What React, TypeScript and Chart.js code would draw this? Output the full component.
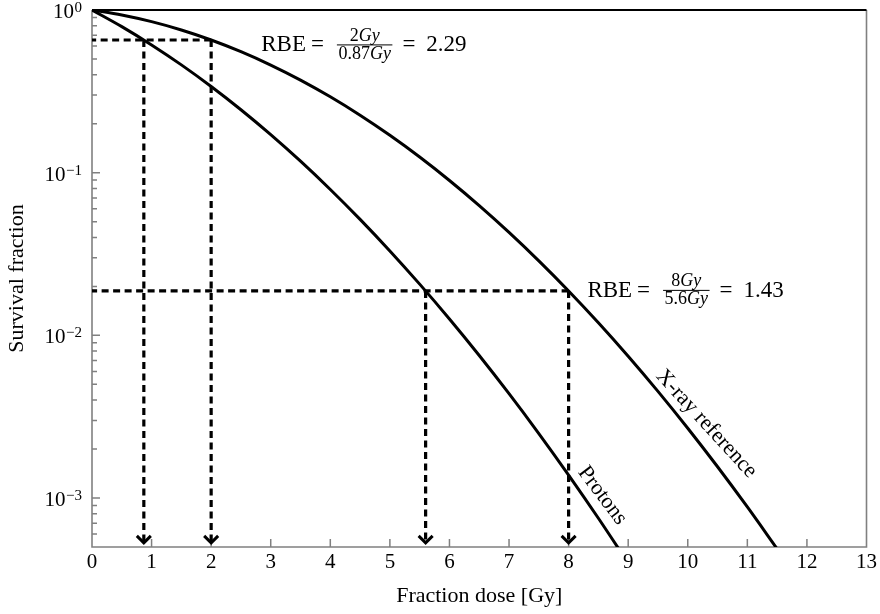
import { useEffect, useRef } from "react";
import { Chart, registerables } from "chart.js";

Chart.register(...registerables);

const SERIF = '"Liberation Serif", "Times New Roman", serif';
const INK = "#000000";
const AXIS_GREY = "#808080";

// Fraction dose axis [Gy]
const doseMin = 0;
const doseMax = 13;
const doseTicks = [0, 1, 2, 3, 4, 5, 6, 7, 8, 9, 10, 11, 12, 13];

// Survival fraction axis (logarithmic)
const survivalMin = 5e-4;
const survivalMax = 1;
const survivalDecades = [0, -1, -2, -3];
const minorDecades = [-1, -2, -3, -4];
const minorMantissas = [2, 3, 4, 5, 6, 7, 8, 9];

// Cell survival curves
const xrayDose = [0, 0.5, 1, 1.5, 2, 2.5, 3, 3.5, 4, 4.5, 5, 5.5, 6, 6.5, 7, 7.5, 8, 8.5, 9, 9.5, 10, 10.5, 11, 11.5];
const xraySurvival = [
  1, 0.9319, 0.848, 0.7536, 0.654, 0.5543, 0.4587, 0.3707, 0.2926, 0.2255, 0.1697, 0.1248,
  0.08955, 0.06277, 0.04296, 0.02872, 0.01875, 0.01195, 0.007443, 0.004525, 0.002686, 0.001557,
  0.000881, 0.000487,
];
const protonDose = [0, 0.5, 1, 1.5, 2, 2.5, 3, 3.5, 4, 4.5, 5, 5.5, 6, 6.5, 7, 7.5, 8, 8.5, 9];
const protonSurvival = [
  1, 0.7903, 0.61, 0.46, 0.3388, 0.2437, 0.1713, 0.1176, 0.07884, 0.05164, 0.03304, 0.02065,
  0.01261, 0.007521, 0.00438, 0.002491, 0.001384, 0.000751, 0.000398,
];

// Iso-effect comparison (same survival level, different doses)
const isoSurvival = [0.654, 0.01875];
const xrayIsoDose = [2, 8];
const protonIsoDose = [0.87, 5.6];
const rbeText = ["2.29", "1.43"];
const arrowTipSurvival = 5.3e-4;

// Annotation anchors (left edge / fraction bar)
const rbeLabelDose = [2.84, 8.315];
const rbeLabelSurvival = [0.61, 0.0189];

// Curve names written along the curves
const curveNames = ["X-ray reference", "Protons"];
const curveLabelDose = [10.31, 8.566];
const curveLabelSurvival = [0.00286, 0.001035];
const curveLabelAngle = [47.5, 53];

const pts = (xs: number[], ys: number[]) => xs.map((x, i) => ({ x, y: ys[i] }));

const curveStyle = {
  borderColor: INK,
  borderWidth: 3,
  pointRadius: 0,
  pointHoverRadius: 0,
  cubicInterpolationMode: "monotone" as const,
  fill: false,
};

const guideStyle = {
  borderColor: INK,
  borderWidth: 3.2,
  borderDash: [7, 4.5],
  borderCapStyle: "butt" as const,
  pointRadius: 0,
  pointHoverRadius: 0,
  tension: 0,
  fill: false,
};

type Run = [string, boolean];

function splitRuns(text: string): Run[] {
  const parts = text.match(/[A-Za-z]+|[^A-Za-z]+/g) || [];
  return parts.map((p) => [p, /[A-Za-z]/.test(p)] as Run);
}

function runsWidth(ctx: CanvasRenderingContext2D, runs: Run[], size: number) {
  let w = 0;
  for (const [t, it] of runs) {
    ctx.font = `${it ? "italic " : ""}${size}px ${SERIF}`;
    w += ctx.measureText(t).width;
  }
  return w;
}

function drawRuns(ctx: CanvasRenderingContext2D, runs: Run[], size: number, x: number, y: number) {
  let cx = x;
  for (const [t, it] of runs) {
    ctx.font = `${it ? "italic " : ""}${size}px ${SERIF}`;
    ctx.fillText(t, cx, y);
    cx += ctx.measureText(t).width;
  }
}

// Frame and inward-pointing tick marks
const framePlugin = {
  id: "frame",
  beforeDatasetsDraw(chart: any) {
    const { ctx, chartArea, scales } = chart;
    const { left, right, top, bottom } = chartArea;
    const x = scales.x;
    const y = scales.y;
    ctx.save();
    ctx.setLineDash([]);
    ctx.strokeStyle = AXIS_GREY;
    ctx.lineWidth = 1.5;
    ctx.beginPath();
    for (const v of doseTicks) {
      if (v === doseMin || v === doseMax) continue;
      const px = x.getPixelForValue(v);
      ctx.moveTo(px, bottom);
      ctx.lineTo(px, bottom - 8);
    }
    for (const e of survivalDecades) {
      const py = y.getPixelForValue(10 ** e);
      ctx.moveTo(left, py);
      ctx.lineTo(left + 8, py);
    }
    for (const e of minorDecades) {
      for (const m of minorMantissas) {
        const v = m * 10 ** e;
        if (v <= survivalMin || v >= survivalMax) continue;
        const py = y.getPixelForValue(v);
        ctx.moveTo(left, py);
        ctx.lineTo(left + 5, py);
      }
    }
    ctx.stroke();

    ctx.lineWidth = 1.6;
    ctx.beginPath();
    ctx.moveTo(left, top);
    ctx.lineTo(left, bottom);
    ctx.lineTo(right, bottom);
    ctx.lineTo(right, top);
    ctx.stroke();

    ctx.strokeStyle = INK;
    ctx.lineWidth = 2;
    ctx.beginPath();
    ctx.moveTo(left, top);
    ctx.lineTo(right, top);
    ctx.stroke();
    ctx.restore();
  },
};

// Arrow heads at the lower end of the vertical guides
const arrowPlugin = {
  id: "arrowHeads",
  afterDatasetsDraw(chart: any) {
    const ctx = chart.ctx;
    chart.data.datasets.forEach((ds: any, i: number) => {
      if (!ds.arrowHead) return;
      const meta = chart.getDatasetMeta(i);
      const end = meta.data[meta.data.length - 1];
      ctx.save();
      ctx.setLineDash([]);
      ctx.strokeStyle = INK;
      ctx.lineWidth = 3;
      ctx.lineJoin = "miter";
      ctx.beginPath();
      ctx.moveTo(end.x - 7, end.y - 7);
      ctx.lineTo(end.x, end.y);
      ctx.lineTo(end.x + 7, end.y - 7);
      ctx.stroke();
      ctx.restore();
    });
  },
};

// Power-of-ten tick labels, RBE formulas and curve names
const textPlugin = {
  id: "texts",
  afterDraw(chart: any) {
    const { ctx, chartArea, scales } = chart;
    const x = scales.x;
    const y = scales.y;
    ctx.save();
    ctx.fillStyle = INK;
    ctx.textBaseline = "alphabetic";

    // 10^k labels
    const labelRight = chartArea.left - 10;
    for (const e of survivalDecades) {
      const py = y.getPixelForValue(10 ** e);
      const exp = e < 0 ? `\u2212${-e}` : `${e}`;
      ctx.textAlign = "right";
      ctx.font = `15px ${SERIF}`;
      const ew = ctx.measureText(exp).width;
      ctx.fillText(exp, labelRight, py + 2);
      ctx.font = `21px ${SERIF}`;
      ctx.fillText("10", labelRight - ew - 0.5, py + 8);
    }

    // RBE = ref/proton = value
    ctx.textAlign = "left";
    const mainSize = 23;
    const fracSize = 18;
    rbeText.forEach((val, i) => {
      let cx = x.getPixelForValue(rbeLabelDose[i]);
      const barY = y.getPixelForValue(rbeLabelSurvival[i]);
      const base = barY + 6.5;
      ctx.font = `${mainSize}px ${SERIF}`;
      ctx.fillText("RBE", cx, base);
      cx += ctx.measureText("RBE").width + 5;
      ctx.fillText("=", cx, base);
      cx += ctx.measureText("=").width + 13;
      const num = splitRuns(`${xrayIsoDose[i]}Gy`);
      const den = splitRuns(`${protonIsoDose[i]}Gy`);
      const nw = runsWidth(ctx, num, fracSize);
      const dw = runsWidth(ctx, den, fracSize);
      const fw = Math.max(nw, dw) + 3;
      ctx.save();
      ctx.strokeStyle = INK;
      ctx.lineWidth = 1;
      ctx.beginPath();
      ctx.moveTo(cx, barY);
      ctx.lineTo(cx + fw, barY);
      ctx.stroke();
      ctx.restore();
      drawRuns(ctx, num, fracSize, cx + (fw - nw) / 2, barY - 4.3);
      drawRuns(ctx, den, fracSize, cx + (fw - dw) / 2, barY + 13.8);
      cx += fw + 10;
      ctx.font = `${mainSize}px ${SERIF}`;
      ctx.fillText("=", cx, base);
      cx += ctx.measureText("=").width + 11;
      ctx.fillText(val, cx, base);
    });

    // curve names
    curveNames.forEach((name, i) => {
      const px = x.getPixelForValue(curveLabelDose[i]);
      const py = y.getPixelForValue(curveLabelSurvival[i]);
      ctx.save();
      ctx.translate(px, py);
      ctx.rotate((curveLabelAngle[i] * Math.PI) / 180);
      ctx.font = `22px ${SERIF}`;
      ctx.textAlign = "center";
      ctx.textBaseline = "middle";
      ctx.fillText(name, 0, 0);
      ctx.restore();
    });
    ctx.restore();
  },
};

export default function App() {
  const canvasRef = useRef<HTMLCanvasElement>(null);

  useEffect(() => {
    const canvas = canvasRef.current;
    if (!canvas) return;

    const datasets: any[] = [
      { label: curveNames[0], data: pts(xrayDose, xraySurvival), ...curveStyle },
      { label: curveNames[1], data: pts(protonDose, protonSurvival), ...curveStyle },
    ];
    isoSurvival.forEach((s, i) => {
      datasets.push({ data: [{ x: xrayIsoDose[i], y: s }, { x: doseMin, y: s }], ...guideStyle });
      datasets.push({
        data: [{ x: protonIsoDose[i], y: s }, { x: protonIsoDose[i], y: arrowTipSurvival }],
        ...guideStyle,
        arrowHead: true,
      });
      datasets.push({
        data: [{ x: xrayIsoDose[i], y: s }, { x: xrayIsoDose[i], y: arrowTipSurvival }],
        ...guideStyle,
        arrowHead: true,
      });
    });

    const chart = new Chart(canvas, {
      type: "line",
      data: { datasets },
      options: {
        animation: false,
        responsive: false,
        devicePixelRatio: 1,
        layout: { padding: { top: 10, right: 11, left: 0, bottom: 0 } },
        plugins: { legend: { display: false }, tooltip: { enabled: false } },
        events: [],
        scales: {
          x: {
            type: "linear",
            min: doseMin,
            max: doseMax,
            afterFit: (s: any) => {
              s.height = 67;
            },
            afterBuildTicks: (s: any) => {
              s.ticks = doseTicks.map((v) => ({ value: v }));
            },
            grid: { display: false, drawTicks: false },
            border: { display: false },
            ticks: {
              autoSkip: false,
              maxRotation: 0,
              color: INK,
              padding: 3,
              font: { family: SERIF, size: 21 },
            },
            title: {
              display: true,
              text: "Fraction dose [Gy]",
              color: INK,
              font: { family: SERIF, size: 22 },
              padding: { top: 0, bottom: 5 },
            },
          },
          y: {
            type: "logarithmic",
            min: survivalMin,
            max: survivalMax,
            afterFit: (s: any) => {
              s.width = 92;
            },
            grid: { display: false, drawTicks: false },
            border: { display: false },
            ticks: { display: false },
            title: {
              display: true,
              text: "Survival fraction",
              color: INK,
              font: { family: SERIF, size: 22 },
              padding: { top: 4, bottom: 0 },
            },
          },
        },
      },
      plugins: [framePlugin, arrowPlugin, textPlugin],
    } as any);

    return () => chart.destroy();
  }, []);

  return (
    <div style={{ position: "fixed", left: 0, top: 0, width: 880, height: 614, background: "#ffffff" }}>
      <canvas ref={canvasRef} width={880} height={614} style={{ display: "block" }} />
    </div>
  );
}
